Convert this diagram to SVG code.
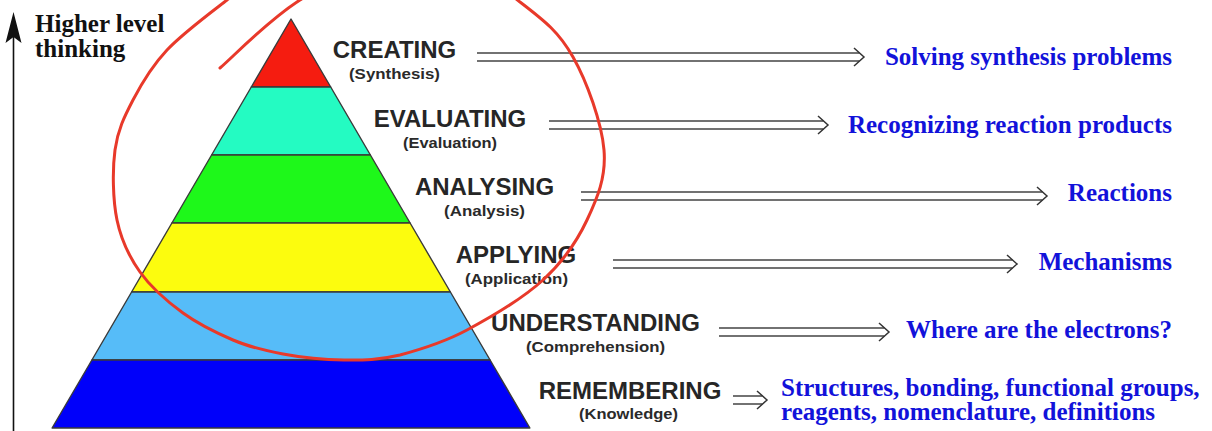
<svg xmlns="http://www.w3.org/2000/svg" width="1212" height="431" viewBox="0 0 1212 431">
<style>
.band{stroke:#3a3a3a;stroke-width:1.4;stroke-linejoin:round}
.lvl{font-family:"Liberation Sans",Arial,sans-serif;font-weight:bold;font-size:24px;fill:#262626;text-anchor:middle}
.sub{font-family:"Liberation Sans",Arial,sans-serif;font-weight:bold;font-size:15.5px;fill:#2a2a2a;text-anchor:middle}
.out{font-family:"Liberation Serif","Times New Roman",serif;font-weight:bold;font-size:25px;fill:#1212DA}
.axis{font-family:"Liberation Serif","Times New Roman",serif;font-weight:bold;font-size:25px;fill:#111}
.dbl{fill:none;stroke:#444;stroke-width:1.7}
.head{fill:none;stroke:#333;stroke-width:1.5;stroke-linejoin:miter}
.loop{fill:none;stroke:#E8392A;stroke-width:3;stroke-linecap:round}
</style>
<rect width="1212" height="431" fill="#fff"/>

<g id="axis">
<line x1="13.5" y1="431" x2="13.5" y2="36" stroke="#111" stroke-width="1.6"/>
<path d="M13.5,12 L21.5,43 L13.5,37 L5.5,43 Z" fill="#111"/>
<text class="axis" x="35" y="32">Higher level</text>
<text class="axis" x="35" y="57">thinking</text>
</g>

<g id="level-creating">
<polygon class="band" fill="#F51C10" points="291,19 330.7,87 251.3,87"/>
<text class="lvl" x="394.5" y="58">CREATING</text>
<text class="sub" x="394.5" y="79" textLength="91" lengthAdjust="spacingAndGlyphs">(Synthesis)</text>
<text class="out" x="1172" y="65" text-anchor="end">Solving synthesis problems</text>
</g>

<g id="level-evaluating">
<polygon class="band" fill="#24FBC2" points="251.3,87 330.7,87 370.4,155 211.6,155"/>
<text class="lvl" x="450" y="127">EVALUATING</text>
<text class="sub" x="450" y="148" textLength="94" lengthAdjust="spacingAndGlyphs">(Evaluation)</text>
<text class="out" x="1172" y="133" text-anchor="end">Recognizing reaction products</text>
</g>

<g id="level-analysing">
<polygon class="band" fill="#1EF81A" points="211.6,155 370.4,155 410.1,223 171.9,223"/>
<text class="lvl" x="484.5" y="195">ANALYSING</text>
<text class="sub" x="484.5" y="216" textLength="81" lengthAdjust="spacingAndGlyphs">(Analysis)</text>
<text class="out" x="1172" y="201" text-anchor="end">Reactions</text>
</g>

<g id="level-applying">
<polygon class="band" fill="#FCFC0E" points="171.9,223 410.1,223 450.4,292 131.6,292"/>
<text class="lvl" x="516" y="263">APPLYING</text>
<text class="sub" x="516.5" y="284" textLength="103" lengthAdjust="spacingAndGlyphs">(Application)</text>
<text class="out" x="1172" y="270" text-anchor="end">Mechanisms</text>
</g>

<g id="level-understanding">
<polygon class="band" fill="#56BCF8" points="131.6,292 450.4,292 490.1,360 91.9,360"/>
<text class="lvl" x="595.5" y="331">UNDERSTANDING</text>
<text class="sub" x="595.5" y="352" textLength="139" lengthAdjust="spacingAndGlyphs">(Comprehension)</text>
<text class="out" x="1172" y="338" text-anchor="end">Where are the electrons?</text>
</g>

<g id="level-remembering">
<polygon class="band" fill="#0000FA" points="91.9,360 490.1,360 529.9,428 52.1,428"/>
<text class="lvl" x="630" y="399">REMEMBERING</text>
<text class="sub" x="628.5" y="419" textLength="99" lengthAdjust="spacingAndGlyphs">(Knowledge)</text>
<text class="out" x="781" y="396">Structures, bonding, functional groups,</text>
<text class="out" x="781" y="420">reagents, nomenclature, definitions</text>
</g>

<g id="connectors">
<path class="dbl" d="M477,53 H859.5 M477,61 H859.5"/>
<path class="head" d="M854,48 L864,57 L854,66"/>
<path class="dbl" d="M549,121 H823.5 M549,129 H823.5"/>
<path class="head" d="M818,116 L828,125 L818,134"/>
<path class="dbl" d="M581,192 H1042.5 M581,200 H1042.5"/>
<path class="head" d="M1037,187 L1047,196 L1037,205"/>
<path class="dbl" d="M613,260 H1012.5 M613,268 H1012.5"/>
<path class="head" d="M1007,255 L1017,264 L1007,273"/>
<path class="dbl" d="M719,328 H884.5 M719,336 H884.5"/>
<path class="head" d="M879,323 L889,332 L879,341"/>
<path class="dbl" d="M733,396 H762.5 M733,404 H762.5"/>
<path class="head" d="M757,391 L767,400 L757,409"/>
</g>

<g id="annotation">
<path class="loop" d="M220,68 C233.3,56.7 266.7,21.3 300,0 C333.3,-21.3 383.3,-60.3 420,-60 C456.7,-59.7 494.5,-17.5 520,2 C545.5,21.5 559,32.3 573,57 C587,81.7 601.7,122.8 604,150 C606.3,177.2 597.2,198.3 587,220 C576.8,241.7 563,261.7 543,280 C523,298.3 490.8,317.2 467,330 C443.2,342.8 420.5,349.5 400,355 C379.5,360 363.5,360.2 344,360 C324.5,359.8 301.5,357.5 283,354 C264.5,350.5 249.7,347.2 233,340 C216.3,332.8 198.5,324.3 183,313 C167.5,301.7 151,287.5 140,272 C129,256.5 121.2,240.3 117,220 C112.8,199.7 112.3,170 115,150 C117.7,130 124.3,116.7 133,100 C141.7,83.3 151.3,66.7 167,50 C182.7,33.3 209.8,13.3 227,0 C244.2,-13.3 262.8,-25 270,-30"/>
</g>
</svg>
